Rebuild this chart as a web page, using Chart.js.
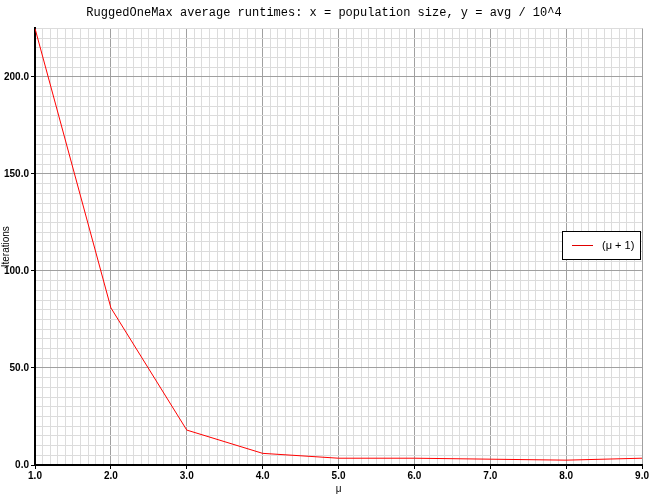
<!DOCTYPE html>
<html>
<head>
<meta charset="utf-8">
<script src="https://cdn.jsdelivr.net/npm/chart.js@4"></script>
<style>
  body { margin: 0; background: #fff; }
  #wrap { width: 650px; height: 500px; }
</style>
</head>
<body>
<div id="wrap"><canvas id="c"></canvas></div>
<script>
const popSizes = [1, 2, 3, 4, 5, 6, 7, 8, 9];
const avgRuntimes = [225, 81, 18, 6, 3.5, 3.5, 3, 2.5, 3.5];
const seriesLabel = '(\u03bc + 1)';

const majorOr = (v, step, major, minor) => Math.abs(v / step - Math.round(v / step)) < 1e-6 ? major : minor;

const legendBox = {
  id: 'legendBox',
  afterDraw(chart) {
    const ctx = chart.ctx;
    ctx.save();
    ctx.fillStyle = '#fff';
    ctx.fillRect(562, 231, 78, 29);
    ctx.strokeStyle = '#000';
    ctx.lineWidth = 1;
    ctx.strokeRect(562.5, 231.5, 78, 28);
    ctx.strokeStyle = '#e00000';
    ctx.beginPath();
    ctx.moveTo(572, 245.5);
    ctx.lineTo(593, 245.5);
    ctx.stroke();
    ctx.fillStyle = '#000';
    ctx.font = '11px "Liberation Sans", Arial, sans-serif';
    ctx.textBaseline = 'middle';
    ctx.fillText(seriesLabel, 602, 246);
    ctx.restore();
  }
};

new Chart(document.getElementById('c'), {
  type: 'line',
  data: {
    datasets: [{
      label: seriesLabel,
      data: popSizes.map((x, i) => ({ x, y: avgRuntimes[i] })),
      borderColor: '#ff0000',
      borderWidth: 1,
      pointRadius: 0,
      tension: 0,
      fill: false,
    }]
  },
  options: {
    responsive: true,
    maintainAspectRatio: false,
    animation: false,
    layout: { padding: { top: 6, right: 2, left: 0, bottom: 5 } },
    plugins: {
      legend: { display: false },
      tooltip: { enabled: false },
      title: {
        display: true,
        text: 'RuggedOneMax average runtimes: x = population size, y = avg / 10^4',
        font: { family: '"Liberation Mono", monospace', size: 12, weight: 'normal' },
        color: '#000',
        padding: { top: 0, bottom: 8 },
      }
    },
    scales: {
      x: {
        type: 'linear',
        min: 1, max: 9,
        afterBuildTicks: ax => { const t = []; for (let i = 0; i <= 80; i++) t.push({ value: 1 + i / 10 }); ax.ticks = t; },
        grid: {
          color: c => majorOr(c.tick.value, 1, '#a0a0a0', '#dcdcdc'),
          tickLength: 4,
          tickColor: c => majorOr(c.tick.value, 1, '#000', 'rgba(0,0,0,0)'),
        },
        border: { color: '#000', width: 2 },
        ticks: {
          autoSkip: false, maxRotation: 0, color: '#000',
          font: { family: '"Liberation Sans", Arial, sans-serif', size: 10, weight: 'bold' },
          padding: 1,
          callback: v => majorOr(v, 1, true, false) ? Math.round(v).toFixed(1) : '',
        },
        title: { display: true, text: '\u03bc', color: '#000', padding: 0, font: { size: 10 } },
      },
      y: {
        min: 0, max: 225,
        afterBuildTicks: ax => { const t = []; for (let v = 0; v <= 225; v += 5) t.push({ value: v }); ax.ticks = t; },
        afterFit: ax => { ax.width = 35; },
        grid: {
          color: c => majorOr(c.tick.value, 50, '#a0a0a0', '#dcdcdc'),
          tickLength: 4,
          tickColor: c => majorOr(c.tick.value, 50, '#000', 'rgba(0,0,0,0)'),
        },
        border: { color: '#000', width: 2 },
        ticks: {
          autoSkip: false, color: '#000', padding: 2,
          font: { family: '"Liberation Sans", Arial, sans-serif', size: 10, weight: 'bold' },
          callback: v => majorOr(v, 50, true, false) ? v.toFixed(1) : '',
        },
        title: { display: true, text: 'Iterations', color: '#000', padding: 0, font: { size: 10 } },
      }
    }
  },
  plugins: [legendBox]
});
</script>
</body>
</html>
